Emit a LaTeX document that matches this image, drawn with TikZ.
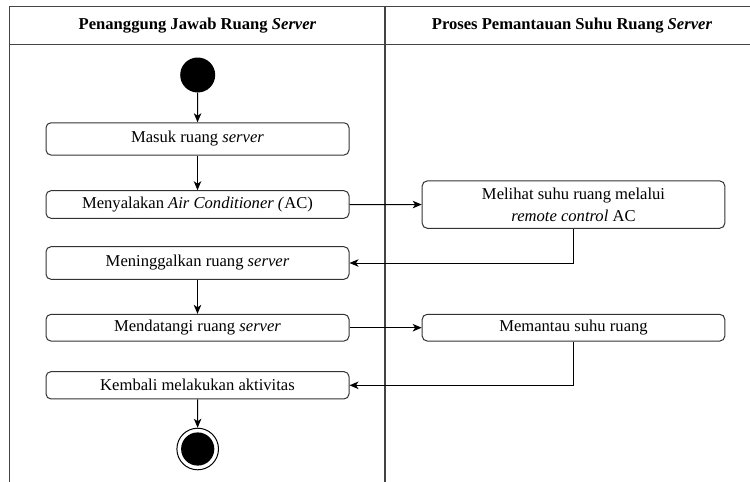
\documentclass[tikz,border=0pt]{standalone}
\usepackage{fontspec}
\setmainfont{Liberation Serif}
\usetikzlibrary{arrows.meta}
\definecolor{frameline}{HTML}{444444}
\definecolor{boxline}{HTML}{333333}
\tikzset{
  lane/.style={draw=frameline, line width=1.3pt},
  act/.style={draw=boxline, line width=1pt, rounded corners=5pt, inner sep=0pt,
    minimum width=303pt, align=center,
    font=\fontsize{16.6}{22}\selectfont},
  hdr/.style={font=\fontsize{16.6}{20}\selectfont\bfseries},
  flow/.style={draw=black, line width=1pt, -{Stealth[length=9pt,width=7.5pt,inset=2.5pt]}},
  startnode/.style={circle, fill=black, minimum size=35pt, inner sep=0pt},
  endnode/.style={circle, draw=black, line width=1pt, minimum size=41.6pt, inner sep=0pt,
    path picture={\fill[black] (path picture bounding box.center) circle (16.6pt);}},
}
\begin{document}
\begin{tikzpicture}[x=1pt,y=-1pt]
\useasboundingbox (0,0) rectangle (750,482);

% swimlane frame
\coordinate (tl) at (9.5,6.5);
\coordinate (tr) at (762,6.5);
\coordinate (hl) at (9.5,44);
\coordinate (hr) at (762,44);
\coordinate (bl) at (9.5,490);
\coordinate (dt) at (385,6.5);
\coordinate (db) at (385,490);
\draw[lane] (bl) -- (tl) -- (tr);
\draw[draw=frameline, line width=1pt] (hl) -- (hr);
\draw[lane] (dt) -- (db);

% lane headers
\node[hdr] (h1) at (197.5,26) {Penanggung Jawab Ruang \textit{Server}};
\node[hdr] (h2) at (572,26) {Proses Pemantauan Suhu Ruang \textit{Server}};

% activities, left lane
\node[startnode] (start) at (197.7,75) {};
\node[act, minimum height=32.3pt] (b1) at (197.5,138.9) {Masuk ruang \textit{server}};
\node[act, minimum height=27.6pt] (b2) at (197.5,204.5) {Menyalakan \textit{Air Conditioner (}AC)};
\node[act, minimum height=32.6pt] (b3) at (197.5,263) {Meninggalkan ruang \textit{server}};
\node[act, minimum height=26.7pt] (b4) at (197.5,327.7) {Mendatangi ruang \textit{server}};
\node[act, minimum height=27.3pt] (b5) at (197.5,385.3) {Kembali melakukan aktivitas};
\node[endnode] (end) at (197.7,449) {};

% activities, right lane
\node[act, minimum width=302.6pt, minimum height=47.3pt] (r1) at (573.5,204.6)
  {Melihat suhu ruang melalui\\\textit{remote control} AC};
\node[act, minimum width=302.6pt, minimum height=26.7pt] (r2) at (573.5,327.7) {Memantau suhu ruang};

% control flow
\draw[flow] (start) -- (b1);
\draw[flow] (b1) -- (b2);
\draw[flow] (b2) -- (r1);
\draw[flow] (r1.south) |- (b3.east);
\draw[flow] (b3) -- (b4);
\draw[flow] (b4) -- (r2);
\draw[flow] (r2.south) |- (b5.east);
\draw[flow] (b5) -- (end);
\end{tikzpicture}
\end{document}
